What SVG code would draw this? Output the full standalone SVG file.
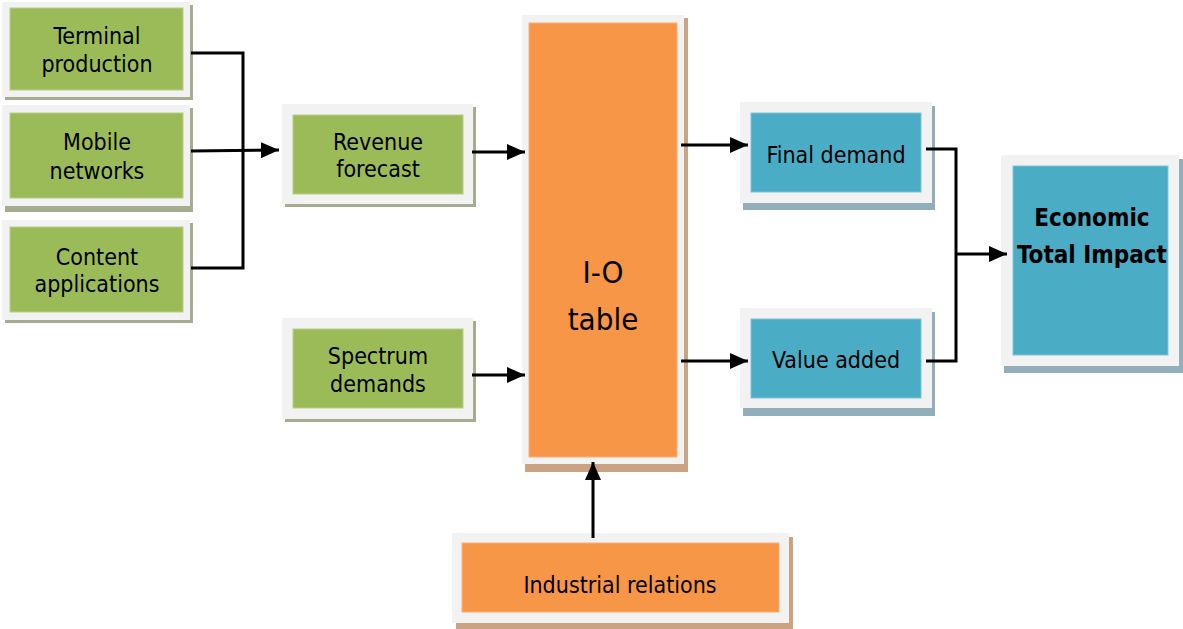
<svg xmlns="http://www.w3.org/2000/svg" width="1183" height="629" viewBox="0 0 1183 629">
<style>
.out{fill:#f2f2f2}
.gs{fill:#a4ad8f}.g{fill:#9bbb59;stroke:#b7cf86;stroke-width:1}
.os{fill:#cba383}.o{fill:#f79646;stroke:#f9b07a;stroke-width:1}
.bs{fill:#93aebb}.b{fill:#4bacc6;stroke:#7fc4d6;stroke-width:1}
text{font-family:"DejaVu Sans Condensed","DejaVu Sans",sans-serif;font-stretch:condensed;font-size:23px;fill:#000;text-anchor:middle}
.big{font-size:31px}
.bold{font-weight:bold;font-size:24px}
.c{fill:none;stroke:#000;stroke-width:3}
</style>
<defs>
<marker id="ah" markerWidth="18" markerHeight="16" refX="18" refY="8" orient="auto" markerUnits="userSpaceOnUse">
<path d="M0,0 L18,8 L0,16 Z" fill="#000"/>
</marker>
</defs>
<g id="terminal">
<rect class="gs" x="5" y="5" width="188" height="95"/>
<rect class="out" x="2" y="2" width="188" height="95"/>
<rect class="g" x="10" y="8" width="173" height="82"/>
<text x="97" y="44">Terminal</text><text x="97" y="72">production</text>
</g>
<g id="mobile">
<rect class="gs" x="5" y="108" width="188" height="104"/>
<rect class="out" x="2" y="105" width="188" height="101"/>
<rect class="g" x="10" y="113" width="173" height="85"/>
<text x="97" y="150">Mobile</text><text x="97" y="179">networks</text>
</g>
<g id="content">
<rect class="gs" x="5" y="223" width="188" height="100"/>
<rect class="out" x="2" y="220" width="188" height="100"/>
<rect class="g" x="10" y="227" width="173" height="85"/>
<text x="97" y="265">Content</text><text x="97" y="292">applications</text>
</g>
<g id="revenue">
<rect class="gs" x="285" y="107" width="191" height="100"/>
<rect class="out" x="282" y="104" width="191" height="100"/>
<rect class="g" x="293" y="115" width="170" height="79"/>
<text x="378" y="150">Revenue</text><text x="378" y="177">forecast</text>
</g>
<g id="spectrum">
<rect class="gs" x="285" y="321" width="191" height="101"/>
<rect class="out" x="282" y="318" width="191" height="101"/>
<rect class="g" x="293" y="329" width="170" height="79"/>
<text x="378" y="364">Spectrum</text><text x="378" y="392">demands</text>
</g>
<g id="io">
<rect class="os" x="525" y="18" width="163" height="454"/>
<rect class="out" x="522" y="15" width="162" height="449"/>
<rect class="o" x="529" y="23" width="148" height="434"/>
<text class="big" x="603" y="283">I-O</text><text class="big" x="603" y="330">table</text>
</g>
<g id="industrial">
<rect class="os" x="456" y="537" width="337" height="92"/>
<rect class="out" x="452" y="533" width="337" height="90"/>
<rect class="o" x="462" y="543" width="317" height="69"/>
<text x="620" y="593">Industrial relations</text>
</g>
<g id="final">
<rect class="bs" x="743" y="106" width="192" height="104"/>
<rect class="out" x="740" y="102" width="192" height="101"/>
<rect class="b" x="751" y="113" width="170" height="79"/>
<text x="836" y="163">Final demand</text>
</g>
<g id="value">
<rect class="bs" x="743" y="312" width="192" height="104"/>
<rect class="out" x="740" y="308" width="192" height="100"/>
<rect class="b" x="751" y="319" width="170" height="79"/>
<text x="836" y="368">Value added</text>
</g>
<g id="economic">
<rect class="bs" x="1004" y="159" width="179" height="214"/>
<rect class="out" x="1001" y="155" width="178" height="211"/>
<rect class="b" x="1013" y="166" width="155" height="189"/>
<text class="bold" x="1092" y="226">Economic</text><text class="bold" x="1092" y="263">Total Impact</text>
</g>
<g id="connectors">
<polyline class="c" points="191,53 243,53 243,268 191,268"/>
<line class="c" x1="191" y1="151" x2="279" y2="150" marker-end="url(#ah)"/>
<line class="c" x1="472" y1="152" x2="525" y2="152" marker-end="url(#ah)"/>
<line class="c" x1="472" y1="375" x2="525" y2="375" marker-end="url(#ah)"/>
<line class="c" x1="681" y1="145" x2="748" y2="145" marker-end="url(#ah)"/>
<line class="c" x1="681" y1="361" x2="748" y2="361" marker-end="url(#ah)"/>
<line class="c" x1="593" y1="538" x2="593" y2="462" marker-end="url(#ah)"/>
<polyline class="c" points="926,149 956,149 956,361 926,361"/>
<line class="c" x1="956" y1="254" x2="1007" y2="254" marker-end="url(#ah)"/>
</g>
</svg>
